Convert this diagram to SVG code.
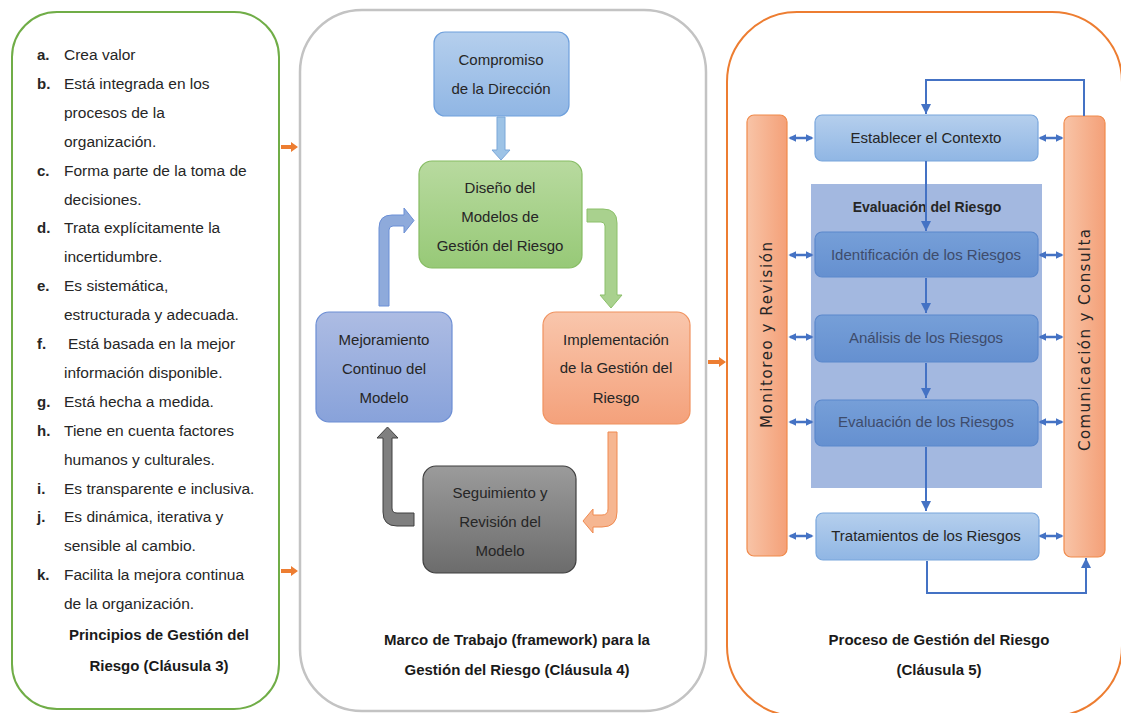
<svg xmlns="http://www.w3.org/2000/svg" width="1121" height="713" viewBox="0 0 1121 713">
<defs>
<style>
text{font-family:"Liberation Sans",Arial,sans-serif;fill:#262626}
.li{font-size:15.5px}
.lb{font-size:15px;font-weight:bold}
.cap{font-size:15px;font-weight:bold;text-anchor:middle;fill:#1a1a1a}
.bx{font-size:15px;text-anchor:middle}
.rb{font-size:15px;text-anchor:middle}
.rd{font-size:15px;text-anchor:middle;fill:#3e4c6c}
.bar{font-family:"DejaVu Sans",Verdana,sans-serif;font-size:15px;text-anchor:middle;fill:#262626}
.conn{fill:none;stroke:#4472c4;stroke-width:2}
.dbl{fill:none;stroke:#4472c4;stroke-width:2.5;marker-start:url(#hd);marker-end:url(#hd)}
.oa{fill:#ed7d31}
</style>
<linearGradient id="gBlue" x1="0" y1="0" x2="0" y2="1"><stop offset="0" stop-color="#b5cfed"/><stop offset="1" stop-color="#90b6e4"/></linearGradient>
<linearGradient id="gGreen" x1="0" y1="0" x2="0" y2="1"><stop offset="0" stop-color="#b8da9f"/><stop offset="1" stop-color="#97c977"/></linearGradient>
<linearGradient id="gPurp" x1="0" y1="0" x2="0" y2="1"><stop offset="0" stop-color="#adbce3"/><stop offset="1" stop-color="#88a2da"/></linearGradient>
<linearGradient id="gOrg" x1="0" y1="0" x2="0" y2="1"><stop offset="0" stop-color="#f9c6ac"/><stop offset="1" stop-color="#f4a17b"/></linearGradient>
<linearGradient id="gGray" x1="0" y1="0" x2="0" y2="1"><stop offset="0" stop-color="#9b9b9b"/><stop offset="1" stop-color="#6c6c6c"/></linearGradient>
<linearGradient id="gBar" x1="0" y1="0" x2="1" y2="0"><stop offset="0" stop-color="#f8c4a7"/><stop offset="1" stop-color="#f4a078"/></linearGradient>
<linearGradient id="gMid" x1="0" y1="0" x2="0" y2="1"><stop offset="0" stop-color="#769fd8"/><stop offset="1" stop-color="#6590d0"/></linearGradient>
<marker id="ah" viewBox="0 0 10 10" refX="10" refY="5" markerWidth="10" markerHeight="10" markerUnits="userSpaceOnUse" orient="auto"><path d="M0,0 L10,5 L0,10 Z" fill="#4472c4"/></marker>
<marker id="hd" viewBox="0 0 10 10" refX="8" refY="5" markerWidth="8" markerHeight="10" markerUnits="userSpaceOnUse" orient="auto-start-reverse"><path d="M0,0 L10,5 L0,10 Z" fill="#4472c4"/></marker>
</defs>
<rect width="1121" height="713" fill="#ffffff"/>

<!-- Panels -->
<g id="panel-principios">
<rect x="12" y="12" width="267" height="697" rx="45" fill="#ffffff" stroke="#70ad47" stroke-width="2"/>
<text class="lb" x="37" y="60">a.</text><text class="li" x="64" y="60">Crea valor</text>
<text class="lb" x="37" y="89">b.</text><text class="li" x="64" y="89">Está integrada en los</text>
<text class="li" x="64" y="118">procesos de la</text>
<text class="li" x="64" y="147">organización.</text>
<text class="lb" x="37" y="176">c.</text><text class="li" x="64" y="176">Forma parte de la toma de</text>
<text class="li" x="64" y="205">decisiones.</text>
<text class="lb" x="37" y="233">d.</text><text class="li" x="64" y="233">Trata explícitamente la</text>
<text class="li" x="64" y="262">incertidumbre.</text>
<text class="lb" x="37" y="291">e.</text><text class="li" x="64" y="291">Es sistemática,</text>
<text class="li" x="64" y="320">estructurada y adecuada.</text>
<text class="lb" x="37" y="349">f.</text><text class="li" x="68" y="349">Está basada en la mejor</text>
<text class="li" x="64" y="378">información disponible.</text>
<text class="lb" x="37" y="407">g.</text><text class="li" x="64" y="407">Está hecha a medida.</text>
<text class="lb" x="37" y="436">h.</text><text class="li" x="64" y="436">Tiene en cuenta factores</text>
<text class="li" x="64" y="465">humanos y culturales.</text>
<text class="lb" x="37" y="494">i.</text><text class="li" x="64" y="494">Es transparente e inclusiva.</text>
<text class="lb" x="37" y="522">j.</text><text class="li" x="64" y="522">Es dinámica, iterativa y</text>
<text class="li" x="64" y="551">sensible al cambio.</text>
<text class="lb" x="37" y="580">k.</text><text class="li" x="64" y="580">Facilita la mejora continua</text>
<text class="li" x="64" y="609">de la organización.</text>
<text class="cap" x="159" y="640">Principios de Gestión del</text>
<text class="cap" x="159" y="671">Riesgo (Cláusula 3)</text>
</g>

<g id="panel-marco">
<rect x="300" y="10" width="406" height="701" rx="62" fill="#ffffff" stroke="#c3c3c3" stroke-width="2.5"/>
<text class="cap" x="517" y="645">Marco de Trabajo (framework) para la</text>
<text class="cap" x="517" y="675">Gestión del Riesgo (Cláusula 4)</text>
</g>

<g id="panel-proceso">
<rect x="727" y="12" width="395" height="704" rx="70" fill="#ffffff" stroke="#ed7d31" stroke-width="2"/>
<text class="cap" x="939" y="645">Proceso de Gestión del Riesgo</text>
<text class="cap" x="939" y="675">(Cláusula 5)</text>
</g>

<!-- Orange link arrows between panels -->
<g id="links">
<path class="oa" d="M281,145 L291,145 L291,142 L298,147 L291,152 L291,149 L281,149 Z"/>
<path class="oa" d="M281,569 L291,569 L291,566 L298,571 L291,576 L291,573 L281,573 Z"/>
<path class="oa" d="M708,360 L719,360 L719,357 L726,362 L719,367 L719,364 L708,364 Z"/>
</g>

<!-- Framework nodes -->
<g id="compromiso">
<rect x="434" y="32" width="135" height="84" rx="11" fill="url(#gBlue)" stroke="#6fa0dc" stroke-width="1.2"/>
<text class="bx" x="501" y="65">Compromiso</text>
<text class="bx" x="501" y="94">de la Dirección</text>
</g>
<g id="diseno">
<rect x="419" y="161" width="163" height="107" rx="13" fill="url(#gGreen)" stroke="#86bc63" stroke-width="1.2"/>
<text class="bx" x="500" y="193">Diseño del</text>
<text class="bx" x="500" y="222">Modelos de</text>
<text class="bx" x="500" y="251">Gestión del Riesgo</text>
</g>
<g id="mejoramiento">
<rect x="316" y="312" width="136" height="110" rx="13" fill="url(#gPurp)" stroke="#6c8ed4" stroke-width="1.2"/>
<text class="bx" x="384" y="345">Mejoramiento</text>
<text class="bx" x="384" y="374">Continuo del</text>
<text class="bx" x="384" y="403">Modelo</text>
</g>
<g id="implementacion">
<rect x="543" y="312" width="147" height="112" rx="13" fill="url(#gOrg)" stroke="#f0925f" stroke-width="1.2"/>
<text class="bx" x="616" y="345">Implementación</text>
<text class="bx" x="616" y="373">de la Gestión del</text>
<text class="bx" x="616" y="403">Riesgo</text>
</g>
<g id="seguimiento">
<rect x="423" y="466" width="153" height="107" rx="13" fill="url(#gGray)" stroke="#3f3f3f" stroke-width="1.2"/>
<text class="bx" x="500" y="498">Seguimiento y</text>
<text class="bx" x="500" y="527">Revisión del</text>
<text class="bx" x="500" y="556">Modelo</text>
</g>

<!-- Process nodes -->
<g id="monitoreo">
<rect x="747" y="115" width="40" height="441" rx="7" fill="url(#gBar)" stroke="#f08a4b" stroke-width="1.2"/>
<text class="bar" transform="translate(767,335) rotate(-90)" x="0" y="5" textLength="186" lengthAdjust="spacing">Monitoreo y Revisión</text>
</g>
<g id="comunicacion">
<rect x="1064" y="116" width="41" height="441" rx="7" fill="url(#gBar)" stroke="#f08a4b" stroke-width="1.2"/>
<text class="bar" transform="translate(1085,340) rotate(-90)" x="0" y="5" textLength="222" lengthAdjust="spacing">Comunicación y Consulta</text>
</g>
<g id="establecer">
<rect x="815" y="115" width="223" height="46" rx="7" fill="url(#gBlue)" stroke="#79a6dc" stroke-width="1.2"/>
<text class="rb" x="926" y="143">Establecer el Contexto</text>
</g>
<g id="evaluacion-riesgo">
<rect x="811" y="184" width="231" height="304" fill="#a3b8e0"/>
<text x="927" y="212" font-size="14" font-weight="bold" text-anchor="middle" fill="#1a1a1a">Evaluación del Riesgo</text>
</g>
<g id="identificacion">
<rect x="815" y="232" width="223" height="45" rx="7" fill="url(#gMid)" stroke="#5b88cc" stroke-width="1.2"/>
<text class="rd" x="926" y="260">Identificación de los Riesgos</text>
</g>
<g id="analisis">
<rect x="815" y="315" width="223" height="47" rx="7" fill="url(#gMid)" stroke="#5b88cc" stroke-width="1.2"/>
<text class="rd" x="926" y="343">Análisis de los Riesgos</text>
</g>
<g id="evaluacion">
<rect x="815" y="400" width="223" height="46" rx="7" fill="url(#gMid)" stroke="#5b88cc" stroke-width="1.2"/>
<text class="rd" x="926" y="427">Evaluación de los Riesgos</text>
</g>
<g id="tratamientos">
<rect x="816" y="513" width="223" height="47" rx="7" fill="url(#gBlue)" stroke="#79a6dc" stroke-width="1.2"/>
<text class="rb" x="926" y="541">Tratamientos de los Riesgos</text>
</g>

<!-- Connectors -->
<g id="connectors">
<!-- framework block arrows -->
<path d="M497,117 L505,117 L505,150 L510,150 L501,160 L492,150 L497,150 Z" fill="#9dc3e6" stroke="#7ba7d8" stroke-width="1"/>
<path d="M587,209 L603,209 Q617,209 617,223 L617,295 L622,295 L611,308 L600,295 L605,295 L605,226 Q605,222 601,222 L587,222 Z" fill="#a9d18e" stroke="#8cc06a" stroke-width="1"/>
<path d="M608,432 L617,432 L617,512 Q617,527 602,527 L593,527 L593,533 L583,521 L593,509 L593,515 L602,515 Q608,515 608,509 Z" fill="#f6b691" stroke="#f08a50" stroke-width="1"/>
<path d="M414,513 L397,513 Q392,513 392,508 L392,438 L398,438 L387.5,427 L377,438 L383,438 L383,512 Q383,526 397,526 L414,526 Z" fill="#7f7f7f" stroke="#404040" stroke-width="1"/>
<path d="M379,306 L379,228 Q379,215 392,215 L404,215 L404,208 L414,220.5 L404,233 L404,226 L393,226 Q389,226 389,230 L389,306 Z" fill="#8eaadb" stroke="#6b8fd6" stroke-width="1"/>
<!-- process connectors -->
<path class="conn" d="M1084,116 V80 H926 V114" marker-end="url(#ah)"/>
<path class="conn" d="M926,161 V231" marker-end="url(#ah)"/>
<path class="conn" d="M926,278 V313" marker-end="url(#ah)"/>
<path class="conn" d="M926,363 V398" marker-end="url(#ah)"/>
<path class="conn" d="M926,447 V511" marker-end="url(#ah)"/>
<path class="conn" d="M927,561 V593 H1086 V558" marker-end="url(#ah)"/>
<line class="dbl" x1="790" y1="138" x2="812" y2="138"/>
<line class="dbl" x1="790" y1="255" x2="812" y2="255"/>
<line class="dbl" x1="790" y1="337" x2="812" y2="337"/>
<line class="dbl" x1="790" y1="422" x2="812" y2="422"/>
<line class="dbl" x1="790" y1="536" x2="812" y2="536"/>
<line class="dbl" x1="1040" y1="138" x2="1062" y2="138"/>
<line class="dbl" x1="1040" y1="255" x2="1062" y2="255"/>
<line class="dbl" x1="1040" y1="337" x2="1062" y2="337"/>
<line class="dbl" x1="1040" y1="422" x2="1062" y2="422"/>
<line class="dbl" x1="1040" y1="536" x2="1062" y2="536"/>
</g>
</svg>
